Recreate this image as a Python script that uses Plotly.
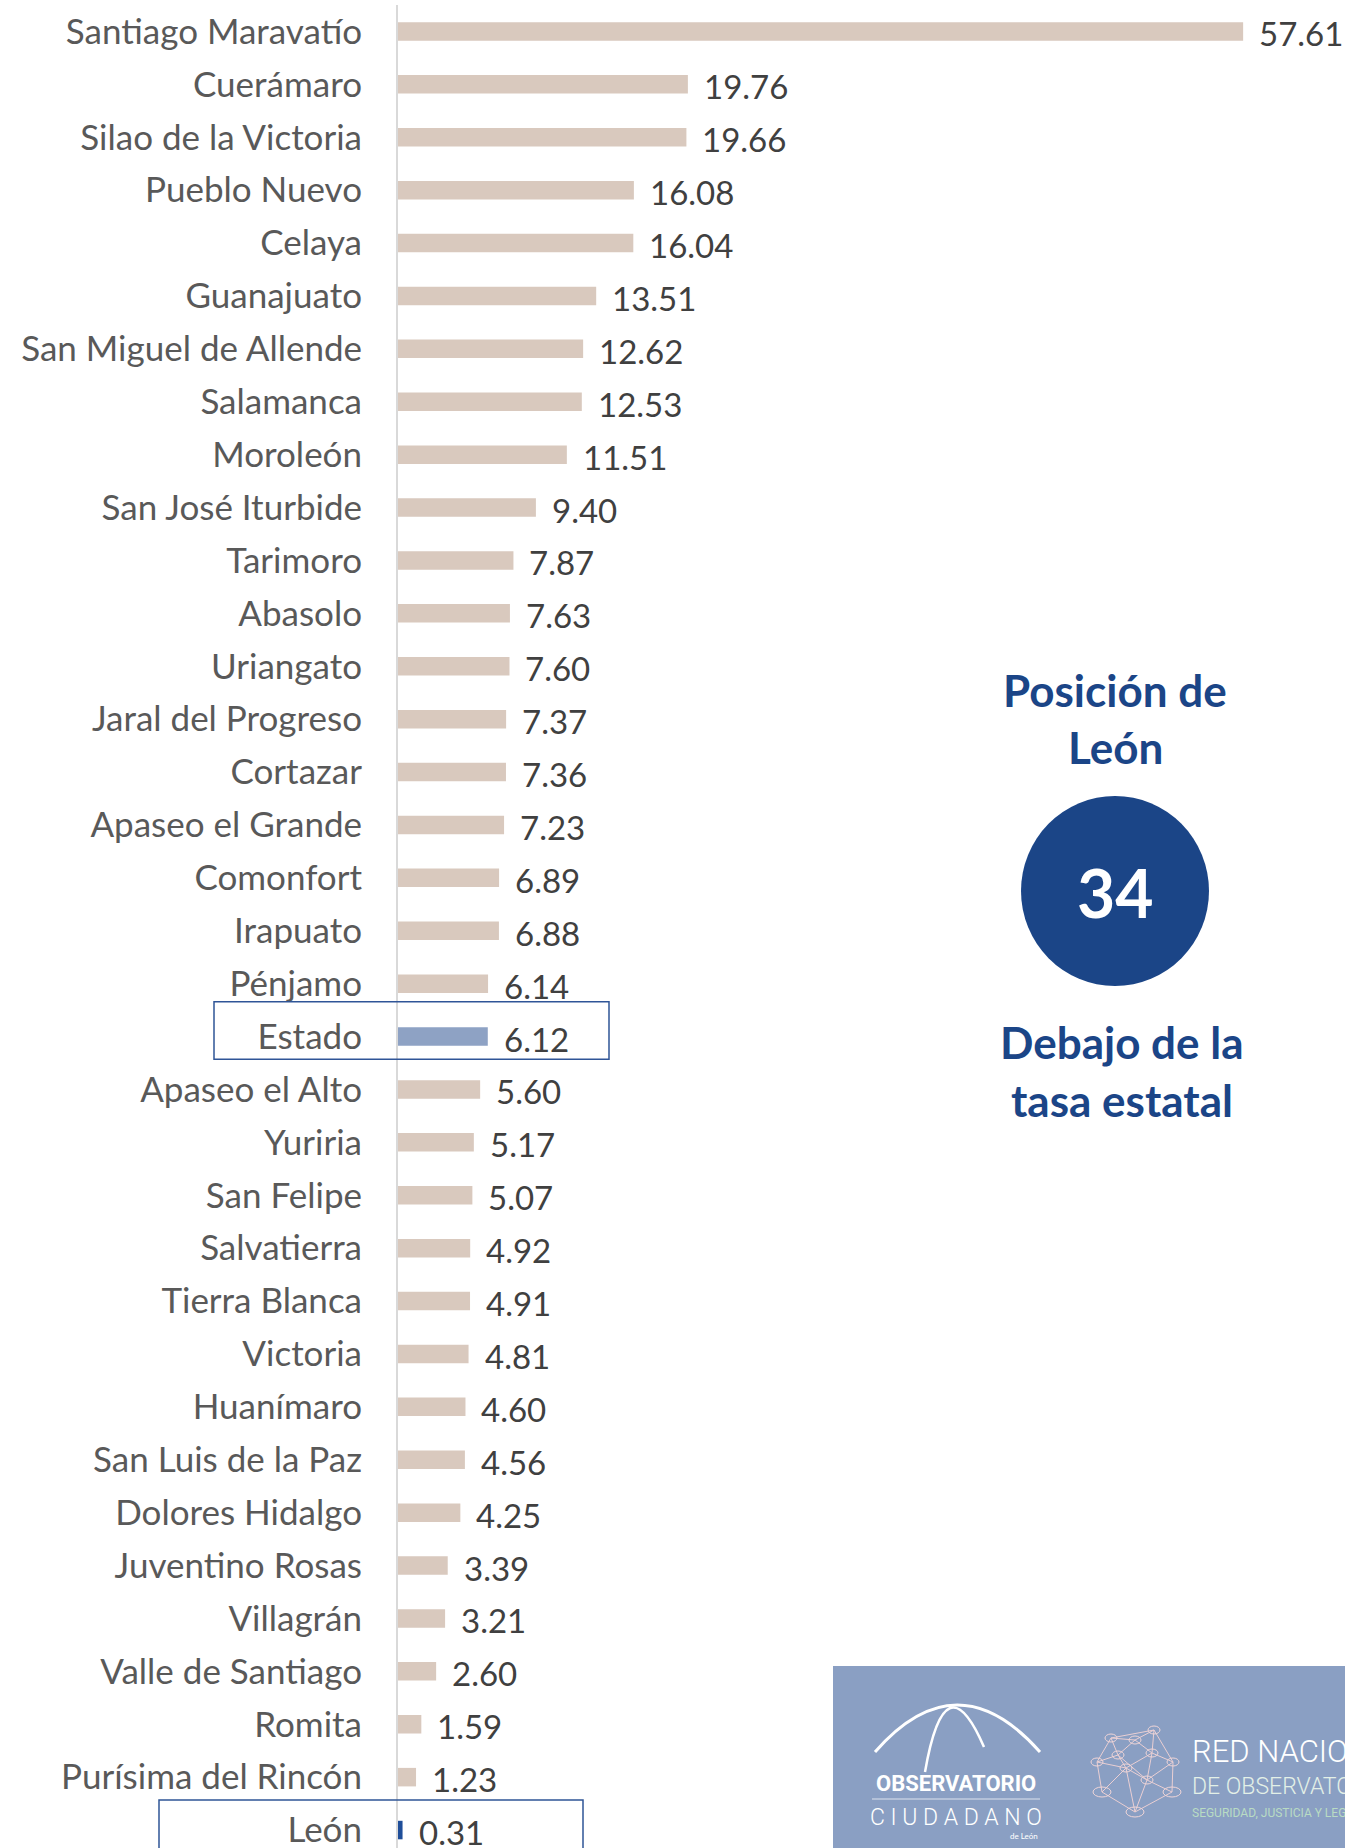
import plotly.graph_objects as go

# ---------------- data ----------------
municipios = ["Santiago Maravatío", "Cuerámaro", "Silao de la Victoria", "Pueblo Nuevo", "Celaya",
              "Guanajuato", "San Miguel de Allende", "Salamanca", "Moroleón", "San José Iturbide",
              "Tarimoro", "Abasolo", "Uriangato", "Jaral del Progreso", "Cortazar",
              "Apaseo el Grande", "Comonfort", "Irapuato", "Pénjamo", "Estado",
              "Apaseo el Alto", "Yuriria", "San Felipe", "Salvatierra", "Tierra Blanca",
              "Victoria", "Huanímaro", "San Luis de la Paz", "Dolores Hidalgo", "Juventino Rosas",
              "Villagrán", "Valle de Santiago", "Romita", "Purísima del Rincón", "León"]
tasas = [57.61, 19.76, 19.66, 16.08, 16.04,
         13.51, 12.62, 12.53, 11.51, 9.40,
         7.87, 7.63, 7.60, 7.37, 7.36,
         7.23, 6.89, 6.88, 6.14, 6.12,
         5.60, 5.17, 5.07, 4.92, 4.91,
         4.81, 4.60, 4.56, 4.25, 3.39,
         3.21, 2.60, 1.59, 1.23, 0.31]
estado_label = "Estado"
ciudad_label = "León"
posicion_leon = "34"

# ---------------- layout geometry ----------------
W, H = 1345, 1848
ML, MR, MT, MB = 398, 0, 5, 0
PW, PH = W - ML - MR, H - MT - MB
ROW_PX = 52.9
X_PX = 14.67

C_BAR = "#D9C9BE"
C_EST = "#8EA2C4"
C_LEON = "#1F4E99"
C_BLUE = "#1B4587"
C_BOX = "#2F5597"

def pxx(x):
    return (x - ML) / PW

def pxy(y):
    return (H - MB - y) / PH

colors = [C_EST if m == estado_label else (C_LEON if m == ciudad_label else C_BAR) for m in municipios]

fig = go.Figure()
fig.add_trace(go.Bar(
    x=tasas, y=municipios, orientation="h",
    marker=dict(color=colors, line=dict(width=0)),
    width=0.35, hoverinfo="x+y", showlegend=False,
))

annotations = []
for m, v in zip(municipios, tasas):
    annotations.append(dict(
        x=v, y=m, xref="x", yref="y", text=f"{v:.2f}", showarrow=False,
        xanchor="left", yanchor="middle", xshift=14, yshift=-2,
        font=dict(family="Lato", size=33, color="#404040"),
    ))

shapes = []
# highlight boxes around Estado and León rows
i_est = municipios.index(estado_label)
i_leon = municipios.index(ciudad_label)
shapes.append(dict(type="rect", xref="paper", yref="y",
                   x0=pxx(214), x1=pxx(609), y0=i_est - 0.66, y1=i_est + 0.43,
                   line=dict(color=C_BOX, width=1.5), fillcolor="rgba(0,0,0,0)", layer="above"))
shapes.append(dict(type="rect", xref="paper", yref="y",
                   x0=pxx(159), x1=pxx(583), y0=i_leon - 0.57, y1=i_leon + 0.7,
                   line=dict(color=C_BOX, width=1.5), fillcolor="rgba(0,0,0,0)", layer="above"))

# right panel: position text + circle
def txt(x, y, s, size, color, family="Lato", bold=False, xanchor="center", weight=None):
    f = dict(family=family, size=size, color=color)
    if bold:
        f["weight"] = "bold"
    if weight is not None:
        f["weight"] = weight
    return dict(x=pxx(x), y=pxy(y), xref="paper", yref="paper", text=s, showarrow=False,
                xanchor=xanchor, yanchor="middle", font=f)

annotations.append(txt(1115, 690, "Posición de", 44, C_BLUE, bold=True))
annotations.append(txt(1115, 747, "León", 44, C_BLUE, bold=True))
shapes.append(dict(type="circle", xref="paper", yref="paper",
                   x0=pxx(1115 - 94), x1=pxx(1115 + 94), y0=pxy(891 + 95), y1=pxy(891 - 95),
                   fillcolor=C_BLUE, line=dict(width=0), layer="above"))
annotations.append(txt(1115, 892, posicion_leon, 66, "white", bold=True))
annotations.append(txt(1122, 1042, "Debajo de la", 44, C_BLUE, bold=True))
annotations.append(txt(1122, 1100, "tasa estatal", 44, C_BLUE, bold=True))

# logo banner
shapes.append(dict(type="rect", xref="paper", yref="paper",
                   x0=pxx(833), x1=pxx(1345), y0=pxy(1848), y1=pxy(1666),
                   fillcolor="#8A9FC3", line=dict(width=0), layer="above"))

def path(cmds):
    out = []
    for c in cmds:
        if isinstance(c, str):
            out.append(c)
        else:
            out.append(f"{pxx(c[0]):.5f},{pxy(c[1]):.5f}")
    return " ".join(out)

shapes.append(dict(type="path", xref="paper", yref="paper",
                   path=path(["M", (875, 1752), "Q", (957, 1658), (1040, 1752)]),
                   line=dict(color="white", width=3), layer="above"))
shapes.append(dict(type="path", xref="paper", yref="paper",
                   path=path(["M", (925, 1772), "Q", (945, 1657), (984, 1747)]),
                   line=dict(color="white", width=2.5), layer="above"))
shapes.append(dict(type="line", xref="paper", yref="paper",
                   x0=pxx(872), x1=pxx(1040), y0=pxy(1799), y1=pxy(1799),
                   line=dict(color="#DDE3EE", width=1), layer="above"))
annotations.append(txt(956, 1783, "OBSERVATORIO", 22, "white", family="Roboto", bold=True))
annotations.append(txt(956, 1817, "C I U D A D A N O", 23, "white", family="Roboto", weight=300))
annotations.append(txt(1024, 1836, "de León", 8, "white", family="Lato"))

# network graphic
nodes = [(1154, 1730), (1135, 1740), (1111, 1738), (1118, 1755), (1152, 1753), (1173, 1762),
         (1097, 1762), (1126, 1768), (1147, 1780), (1102, 1792), (1172, 1792), (1135, 1812)]
edges = [(0, 1), (1, 2), (0, 2), (2, 3), (1, 3), (1, 4), (0, 4), (0, 5), (4, 5), (2, 6),
         (3, 6), (3, 7), (4, 7), (7, 8), (4, 8), (5, 8), (6, 9), (7, 9), (8, 10), (5, 10),
         (9, 11), (10, 11), (8, 11), (7, 11), (6, 7), (3, 8)]
for a, b in edges:
    shapes.append(dict(type="line", xref="paper", yref="paper",
                       x0=pxx(nodes[a][0]), y0=pxy(nodes[a][1]),
                       x1=pxx(nodes[b][0]), y1=pxy(nodes[b][1]),
                       line=dict(color="#EACFD3", width=1), layer="above"))
for k, (nx, ny) in enumerate(nodes):
    rx, ry = (9, 5) if k >= 9 else (6, 4)
    shapes.append(dict(type="circle", xref="paper", yref="paper",
                       x0=pxx(nx - rx), x1=pxx(nx + rx), y0=pxy(ny + ry), y1=pxy(ny - ry),
                       line=dict(color="#F0D6D8", width=1), fillcolor="rgba(0,0,0,0)", layer="above"))
annotations.append(txt(1190, 1751, "RED NACIONAL", 31, "white", family="Roboto", xanchor="left", weight=300))
annotations.append(txt(1190, 1786, "DE OBSERVATORIOS", 23, "#E3F0E7", family="Roboto", xanchor="left", weight=300))
annotations.append(txt(1190, 1813, "SEGURIDAD, JUSTICIA Y LEGALIDAD", 12, "#B9DCC3", family="Roboto", xanchor="left"))

fig.update_layout(
    width=W, height=H,
    margin=dict(l=ML, r=MR, t=MT, b=MB, pad=0),
    paper_bgcolor="white", plot_bgcolor="white",
    showlegend=False,
    xaxis=dict(range=[0, PW / X_PX], visible=False, fixedrange=True),
    yaxis=dict(categoryorder="array", categoryarray=municipios,
               range=[-0.5 + PH / ROW_PX, -0.5],
               showline=True, linecolor="#D9D9D9", linewidth=2,
               showgrid=False, zeroline=False, ticks="",
               ticklabelstandoff=27,
               tickfont=dict(family="Lato", size=35, color="#595959"),
               fixedrange=True),
    shapes=shapes,
    annotations=annotations,
)

fig.write_html("out.html", config={"displayModeBar": False},
               post_script="document.body.style.margin='0';document.body.style.overflow='hidden';")
